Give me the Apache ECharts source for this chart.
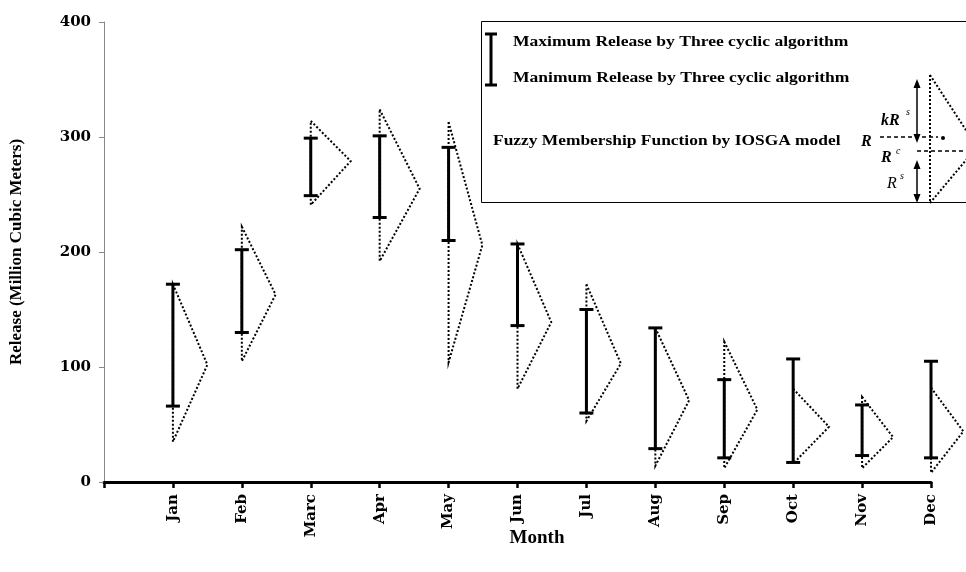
<!DOCTYPE html>
<html><head><meta charset="utf-8">
<script src="https://cdn.jsdelivr.net/npm/echarts@6/dist/echarts.min.js"></script>
<style>html,body{margin:0;padding:0;background:#fff}#chart{width:966px;height:572px}</style>
</head><body><div id="chart"></div>
<script>
// Monthly release ranges (million cubic meters)
const months = ['Jan', 'Feb', 'Marc', 'Apr', 'May', 'Jun', 'Jul', 'Aug', 'Sep', 'Oct', 'Nov', 'Dec'];
const yTicks = [0, 100, 200, 300, 400];
// Three cyclic algorithm: max / min release
const maxRelease = [172, 202, 299, 301, 291, 207, 150, 134, 89, 107, 67, 105];
const minRelease = [66, 130, 249, 230, 210, 136, 60, 29, 21, 17, 23, 21];
// IOSGA fuzzy membership triangles: upper end, lower end, peak value
const fuzzyUpper = [172, 222, 314, 324, 313, 207, 172, 134, 122, 81, 74, 82];
const fuzzyLower = [35, 105, 241, 192, 104, 81, 53, 14, 12, 16, 12, 8];
const fuzzyPeak = [102, 163, 279, 255, 206, 139, 103, 71, 63, 48, 39, 44];
// membership degree drawn as horizontal reach of the peak (in month units)
const peakReach = [0.5, 0.49, 0.58, 0.58, 0.49, 0.49, 0.5, 0.49, 0.48, 0.52, 0.45, 0.47];

const SERIF = '"Liberation Serif", "Times New Roman", serif';
const WIDE = '"DejaVu Serif", "Liberation Serif", serif';
const chart = echarts.init(document.getElementById('chart'), null, { renderer: 'canvas' });

const triData = months.map((m, i) => [i + 1, fuzzyUpper[i], fuzzyLower[i], fuzzyPeak[i], peakReach[i]]);
const barData = months.map((m, i) => [i + 1, maxRelease[i], minRelease[i]]);

const txt = (x, y, text, opt, extra) => Object.assign({
  type: 'text', x: x, y: y, z: 20,
  style: Object.assign({ text: text, fill: '#000', font: 'bold 15px ' + SERIF, textVerticalAlign: 'middle', textAlign: 'left' }, opt || {})
}, extra || {});
const seg = (x1, y1, x2, y2, style) => ({
  type: 'line', z: 20, shape: { x1: x1, y1: y1, x2: x2, y2: y2 },
  style: Object.assign({ stroke: '#000', lineWidth: 1.5 }, style || {})
});
const head = (x, y, dir) => ({
  type: 'polygon', z: 20,
  shape: { points: [[x, y], [x - 3.5, y + dir * 9], [x + 3.5, y + dir * 9]] },
  style: { fill: '#000' }
});

const option = {
  backgroundColor: '#fff',
  animation: false,
  grid: { left: 101, right: 35, top: 22, bottom: 90 },
  xAxis: {
    type: 'value', min: 0, max: 12, interval: 1,
    axisLine: { lineStyle: { color: '#000', width: 3 } },
    axisTick: { show: true, length: 6, lineStyle: { color: '#000', width: 2.5 } },
    splitLine: { show: false },
    axisLabel: {
      rotate: 90, margin: 12, color: '#000', fontFamily: WIDE, fontWeight: 'bold', fontSize: 15,
      formatter: v => (v >= 1 && v <= 12) ? months[v - 1] : ''
    }
  },
  yAxis: {
    type: 'value', min: yTicks[0], max: yTicks[yTicks.length - 1], interval: 100,
    name: 'Release (Million Cubic Meters)', nameLocation: 'middle', nameGap: 79, nameRotate: 90,
    nameTextStyle: { color: '#000', fontFamily: SERIF, fontWeight: 'bold', fontSize: 17 },
    axisLine: { show: true, lineStyle: { color: '#888', width: 1 } },
    axisTick: { show: true, length: 5, lineStyle: { color: '#888' } },
    splitLine: { show: false },
    axisLabel: { margin: 13, color: '#000', fontFamily: WIDE, fontWeight: 'bold', fontSize: 15 }
  },
  series: [
    {
      type: 'custom', name: 'Fuzzy Membership Function by IOSGA model', clip: false, z: 2,
      data: triData,
      renderItem: (params, api) => {
        const x = api.value(0);
        const top = api.coord([x, api.value(1)]);
        const peak = api.coord([x + api.value(4), api.value(3)]);
        const bot = api.coord([x, api.value(2)]);
        return {
          type: 'polygon', shape: { points: [top, peak, bot] },
          style: { fill: null, stroke: '#000', lineWidth: 2, lineDash: [2, 2] }
        };
      }
    },
    {
      type: 'custom', name: 'Three cyclic algorithm', clip: false, z: 3,
      data: barData,
      renderItem: (params, api) => {
        const hi = api.coord([api.value(0), api.value(1)]);
        const lo = api.coord([api.value(0), api.value(2)]);
        const w = 7;
        const st = { stroke: '#000', lineWidth: 3 };
        return {
          type: 'group', children: [
            { type: 'line', shape: { x1: hi[0], y1: hi[1], x2: lo[0], y2: lo[1] }, style: st },
            { type: 'line', shape: { x1: hi[0] - w, y1: hi[1], x2: hi[0] + w, y2: hi[1] }, style: st },
            { type: 'line', shape: { x1: lo[0] - w, y1: lo[1], x2: lo[0] + w, y2: lo[1] }, style: st }
          ]
        };
      }
    }
  ],
  graphic: [
    // legend frame
    { type: 'rect', z: 19, shape: { x: 481.5, y: 21.5, width: 600, height: 181 },
      style: { fill: '#fff', stroke: '#000', lineWidth: 1 } },
    // range bar symbol
    seg(491, 34, 491, 85, { lineWidth: 3 }),
    seg(485, 34, 497, 34, { lineWidth: 3 }),
    seg(485, 85, 497, 85, { lineWidth: 3 }),
    txt(513, 42, 'Maximum Release by Three cyclic algorithm', null, { scaleX: 1.17 }),
    txt(513, 78, 'Manimum Release by Three cyclic algorithm', null, { scaleX: 1.17 }),
    txt(493, 141, 'Fuzzy Membership Function by IOSGA model', null, { scaleX: 1.16 }),
    // membership triangle sketch
    seg(930, 75, 930, 203, { lineWidth: 2, lineDash: [2, 2] }),
    seg(930, 75, 977, 147, { lineWidth: 2, lineDash: [2, 2] }),
    seg(930, 203, 977, 147, { lineWidth: 2, lineDash: [2, 2] }),
    seg(880, 137, 938, 137, { lineWidth: 1.4, lineDash: [4, 3] }),
    { type: 'circle', z: 20, shape: { cx: 943, cy: 138, r: 2 }, style: { fill: '#000' } },
    seg(917, 151, 966, 151, { lineWidth: 1.4, lineDash: [4, 3] }),
    seg(917, 85, 917, 137),
    head(917, 79, 1), head(917, 143, -1),
    seg(917, 166, 917, 196),
    head(917, 160, 1), head(917, 203, -1),
    txt(881, 121, 'kR', { font: 'italic bold 16px ' + SERIF }),
    txt(906, 112, 's', { font: 'italic 10px ' + SERIF }),
    txt(861, 142, 'R', { font: 'italic bold 16px ' + SERIF }),
    txt(881, 158, 'R', { font: 'italic bold 16px ' + SERIF }),
    txt(896, 151, 'c', { font: 'italic 10px ' + SERIF }),
    txt(887, 184, 'R', { font: 'italic 16px ' + SERIF }),
    txt(900, 176, 's', { font: 'italic 10px ' + SERIF }),
    // x axis title
    txt(537, 538, 'Month', { font: 'bold 19px ' + SERIF, textAlign: 'center' })
  ]
};
chart.setOption(option);
</script>
</body></html>
